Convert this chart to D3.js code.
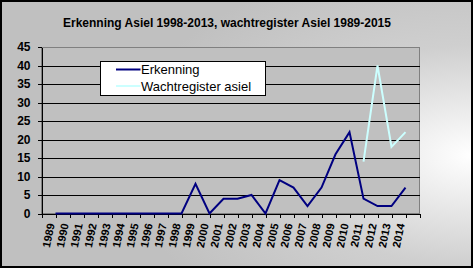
<!DOCTYPE html>
<html>
<head>
<meta charset="utf-8">
<script src="https://cdn.jsdelivr.net/npm/d3@7"></script>
<style>
body { margin: 0; }
svg { display: block; }
text { font-family: Arial, "Liberation Sans", sans-serif; }
</style>
</head>
<body>
<svg id="chart"></svg>
<script>
const svg_width = 473;
const svg_height = 268;

// data
const years = [1989, 1990, 1991, 1992, 1993, 1994, 1995, 1996, 1997, 1998, 1999, 2000, 2001,
	2002, 2003, 2004, 2005, 2006, 2007, 2008, 2009, 2010, 2011, 2012, 2013, 2014];
const erkenning = [0, 0, 0, 0, 0, 0, 0, 0, 0, 0, 8, 0, 4, 4, 5, 0, 9, 7, 2, 7, 16, 22, 4, 2, 2, 7];
const wachtYears = [2011, 2012, 2013, 2014];
const wachtregister = [14, 40, 18, 22];
const yTicks = [0, 5, 10, 15, 20, 25, 30, 35, 40, 45];
const tickYears = [1988, 1989, 1990, 1991, 1992, 1993, 1994, 1995, 1996, 1997, 1998, 1999, 2000, 2001,
	2002, 2003, 2004, 2005, 2006, 2007, 2008, 2009, 2010, 2011, 2012, 2013, 2014, 2015];
const title = 'Erkenning Asiel 1998-2013, wachtregister Asiel 1989-2015';

const svg = d3.select('#chart')
	.attr('width', svg_width)
	.attr('height', svg_height);

// background gradient
const defs = svg.append('defs');
const grad = defs.append('radialGradient')
	.attr('id', 'bg')
	.attr('cx', '100%').attr('cy', '58%').attr('r', '75%')
	.attr('fx', '100%').attr('fy', '58%');
grad.append('stop').attr('offset', '0%').attr('stop-color', '#ffffff');
grad.append('stop').attr('offset', '55%').attr('stop-color', '#cfcfcf');
grad.append('stop').attr('offset', '100%').attr('stop-color', '#c0c0c0');

svg.append('rect')
	.attr('x', 1).attr('y', 1)
	.attr('width', svg_width - 2).attr('height', svg_height - 2)
	.attr('fill', 'url(#bg)')
	.attr('stroke', '#000')
	.attr('stroke-width', 2);

const margin = {top: 47, right: 53.5, bottom: 54.5, left: 41.5};
const innerWidth = svg_width - margin.left - margin.right;
const innerHeight = svg_height - margin.top - margin.bottom;

const x = d3.scaleLinear().domain([1988, 2015]).range([0, innerWidth]);
const y = d3.scaleLinear().domain([0, 45]).range([innerHeight, 0]);

const g = svg.append('g').attr('transform', `translate(${margin.left}, ${margin.top})`);

// plot area
g.append('rect')
	.attr('width', innerWidth).attr('height', innerHeight)
	.attr('fill', '#c0c0c0')
	.attr('stroke', '#808080')
	.attr('shape-rendering', 'crispEdges');

// gridlines
g.selectAll('.grid')
	.data(yTicks.filter(d => d > 0 && d < 45))
	.enter().append('line')
	.attr('class', 'grid')
	.attr('x1', 0).attr('x2', innerWidth)
	.attr('y1', d => Math.round(y(d)) + 0.5).attr('y2', d => Math.round(y(d)) + 0.5)
	.attr('stroke', '#000')
	.attr('shape-rendering', 'crispEdges');

// y axis
const yAxis = g.append('g')
	.call(d3.axisLeft(y).tickValues(yTicks).tickSize(4).tickSizeOuter(0).tickPadding(7));
yAxis.selectAll('text').attr('font-size', '12px').attr('font-weight', 'bold').attr('fill', '#000')
	.attr('font-family', 'Arial, "Liberation Sans", sans-serif');
yAxis.selectAll('line, path').attr('stroke', '#000').attr('shape-rendering', 'crispEdges');

// x axis (ticks only, labels sit between ticks)
const xAxis = g.append('g')
	.attr('transform', `translate(0, ${innerHeight})`)
	.call(d3.axisBottom(x).tickValues(tickYears).tickSize(4).tickSizeOuter(0));
xAxis.selectAll('text').remove();
xAxis.selectAll('line, path').attr('stroke', '#000').attr('shape-rendering', 'crispEdges');

g.selectAll('.xlabel')
	.data(years)
	.enter().append('text')
	.attr('class', 'xlabel')
	.attr('x', d => x(d - 0.5) + 2.5)
	.attr('y', innerHeight + 10)
	.attr('transform', d => `rotate(-78, ${x(d - 0.5) + 2.5}, ${innerHeight + 10})`)
	.attr('text-anchor', 'end')
	.attr('dy', '0.35em')
	.attr('font-size', '11px')
	.attr('font-weight', 'bold')
	.attr('fill', '#000')
	.text(d => d);

// lines
const line = d3.line()
	.x(d => x(d[0]))
	.y(d => y(d[1]));

g.append('path')
	.datum(d3.zip(years, erkenning))
	.attr('d', line)
	.attr('fill', 'none')
	.attr('stroke', '#000080')
	.attr('stroke-width', 2);

g.append('path')
	.datum(d3.zip(wachtYears, wachtregister))
	.attr('d', line)
	.attr('fill', 'none')
	.attr('stroke', '#ccffff')
	.attr('stroke-width', 2);

// title
svg.append('text')
	.attr('x', 227).attr('y', 27)
	.attr('text-anchor', 'middle')
	.attr('font-size', '12px')
	.attr('font-weight', 'bold')
	.attr('fill', '#000')
	.text(title);

// legend
const legend = svg.append('g').attr('transform', 'translate(100.5, 61.5)');
legend.append('rect')
	.attr('width', 165).attr('height', 34)
	.attr('fill', '#fff')
	.attr('stroke', '#000');
const legendItems = [['Erkenning', '#000080'], ['Wachtregister asiel', '#ccffff']];
legendItems.forEach((d, i) => {
	legend.append('line')
		.attr('x1', 15.5).attr('x2', 40)
		.attr('y1', 8 + i * 16.5).attr('y2', 8 + i * 16.5)
		.attr('stroke', d[1]).attr('stroke-width', 2);
	legend.append('text')
		.attr('x', 40.5).attr('y', 12.5 + i * 16.5)
		.attr('font-size', '13px')
		.attr('fill', '#000')
		.text(d[0]);
});
</script>
</body>
</html>
